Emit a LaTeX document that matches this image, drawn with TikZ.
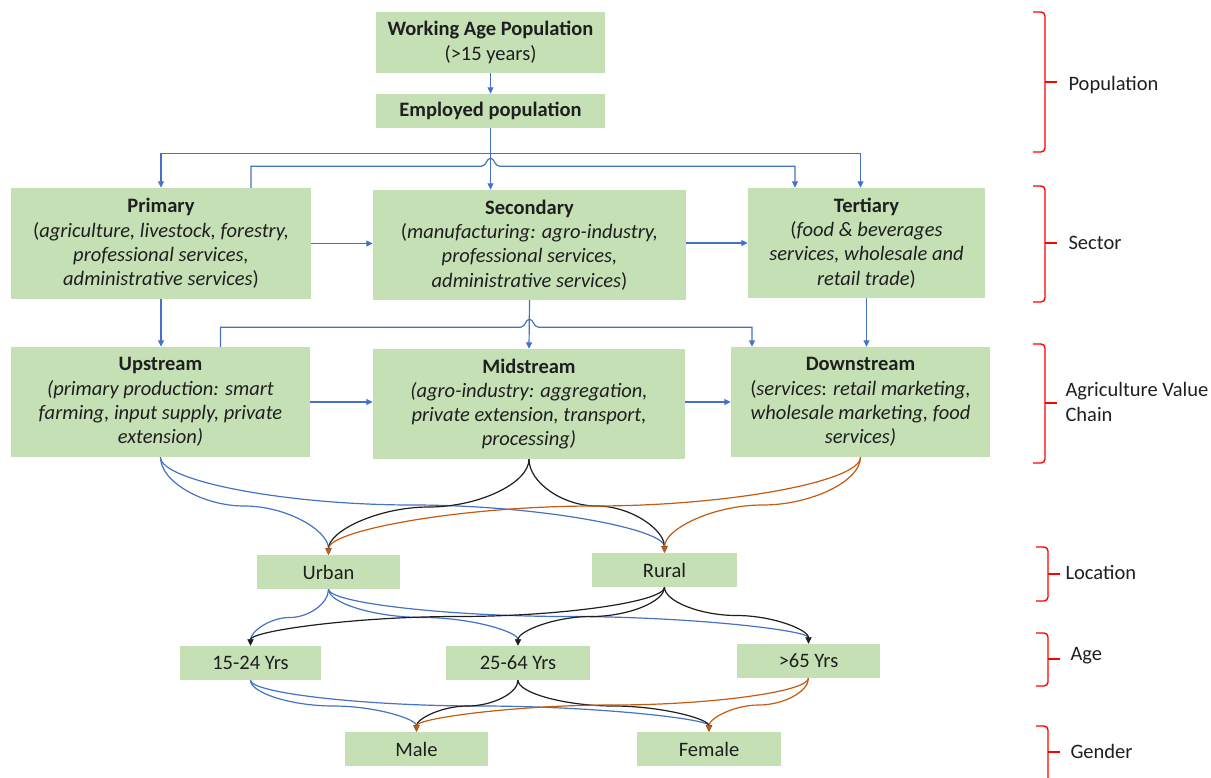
\documentclass[tikz,border=0pt]{standalone}
\usepackage{fontspec}
\setmainfont{Carlito}
\usetikzlibrary{arrows.meta,calc}
\definecolor{boxgreen}{RGB}{197,224,180}
\definecolor{cblue}{RGB}{68,114,196}
\definecolor{corange}{RGB}{197,90,17}
\definecolor{cblack}{RGB}{30,30,30}
\definecolor{cred}{RGB}{255,0,0}
\newcommand\curvconn[3]{%
  \draw[#1] let \p1=(#2), \p2=(#3) in (\p1)
    .. controls (\x1,{\y1+(\y2-\y1)/4}) and ({\x1+(\x2-\x1)/4},{(\y1+\y2)/2}) .. ({(\x1+\x2)/2},{(\y1+\y2)/2})
    .. controls ({\x1+3*(\x2-\x1)/4},{(\y1+\y2)/2}) and (\x2,{\y1+3*(\y2-\y1)/4}) .. (\p2);}
\begin{document}
\begin{tikzpicture}[x=1pt,y=-1pt,
  box/.style={fill=boxgreen, draw=none, align=center, inner sep=0pt,
    font=\fontsize{20.5}{24.2}\selectfont, text=black!88},
  lab/.style={anchor=west, align=left, font=\fontsize{20.5}{24.2}\selectfont, text=black!88},
  conn/.style={line width=1.2pt, -{Triangle[length=6.5pt,width=6pt]}},
  bl/.style={conn, draw=cblue, color=cblue},
  bk/.style={conn, draw=cblack, color=cblack},
  orng/.style={conn, draw=corange, color=corange},
  brace/.style={draw=cred, line width=1.4pt, rounded corners=4pt},
  tick/.style={draw=cred, line width=1.4pt}]
\useasboundingbox (0,0) rectangle (1211,777);

% boxes
\node[box, minimum width=229pt, minimum height=61pt] (wap) at (490.5,42.5) {\textbf{Working Age Population}\\(>15 years)};
\node[box, minimum width=229pt, minimum height=34pt] (emp) at (490.5,111) {\textbf{Employed population}};
\node[box, minimum width=300pt, minimum height=111pt] (prim) at (161,243.5) {\textbf{Primary}\\(\textit{agriculture, livestock, forestry,}\\\textit{professional services,}\\\textit{administrative services})};
\node[box, minimum width=313pt, minimum height=110pt] (sec) at (529.5,245) {\textbf{Secondary}\\(\textit{manufacturing: agro-industry,}\\\textit{professional services,}\\\textit{administrative services})};
\node[box, minimum width=237pt, minimum height=110pt] (ter) at (866.5,243) {\textbf{Tertiary}\\(\textit{food \& beverages}\\\textit{services, wholesale and}\\\textit{retail trade})};
\node[box, minimum width=299pt, minimum height=110pt] (up) at (160.5,402) {\textbf{Upstream}\\\textit{(primary production: smart}\\\textit{farming, input supply, private}\\\textit{extension)}};
\node[box, minimum width=312pt, minimum height=110pt] (mid) at (529,404) {\textbf{Midstream}\\\textit{(agro-industry: aggregation,}\\\textit{private extension, transport,}\\\textit{processing)}};
\node[box, minimum width=259pt, minimum height=110pt] (down) at (860.5,402) {\textbf{Downstream}\\(\textit{services}: \textit{retail marketing,}\\\textit{wholesale marketing, food}\\\textit{services)}};
\node[box, minimum width=143pt, minimum height=34pt] (urban) at (328.5,572) {Urban};
\node[box, minimum width=145pt, minimum height=34pt] (rural) at (664.5,570) {Rural};
\node[box, minimum width=141pt, minimum height=34pt] (a1) at (250.5,663) {15-24 Yrs};
\node[box, minimum width=144pt, minimum height=34pt] (a2) at (518,663) {25-64 Yrs};
\node[box, minimum width=143pt, minimum height=34pt] (a3) at (808.5,661) {>65 Yrs};
\node[box, minimum width=143pt, minimum height=34pt] (male) at (416.5,749) {Male};
\node[box, minimum width=144pt, minimum height=34pt] (female) at (709,749) {Female};

% helper coordinates
\coordinate (j1) at ($(emp.south)+(0,25)$);
\coordinate (t2) at ($(ter.north)+(-6,0)$);
\coordinate (p1) at ($(prim.north)+(90,0)$);
\coordinate (h1) at ($(emp.south)+(0,38)$);
\coordinate (t1) at ($(ter.north)+(-71.5,0)$);
\coordinate (u1) at ($(up.north)+(60,0)$);
\coordinate (h2) at ($(sec.south)+(0,27)$);
\coordinate (d1) at ($(down.north)+(-108.5,0)$);

% straight connectors
\draw[bl] (wap.south) -- (emp.north);
\draw[bl] (emp.south) -- (emp.south |- sec.north);
\draw[bl] (emp.south) -- (j1) -| (prim.north);
\draw[bl] (j1) -| (t2);
\draw[bl] (p1) -- (p1 |- h1) -- ($(h1)+(-9,0)$)
  .. controls ($(h1)+(-4,0)$) and ($(h1)+(-4,-8)$) .. ($(h1)+(0,-8)$)
  .. controls ($(h1)+(4,-8)$) and ($(h1)+(4,0)$) .. ($(h1)+(9,0)$)
  -- (h1 -| t1) -- (t1);
\draw[bl] (prim.east) -- (prim.east -| sec.west);
\draw[bl] (ter.west -| sec.east) -- (ter.west);
\draw[bl] (prim.south) -- (prim.south |- up.north);
\draw[bl] (sec.south) -- (mid.north);
\draw[bl] (ter.south) -- (ter.south |- down.north);
\draw[bl] (u1) -- (u1 |- h2) -- ($(h2)+(-9,0)$)
  .. controls ($(h2)+(-4,0)$) and ($(h2)+(-4,-8)$) .. ($(h2)+(0,-8)$)
  .. controls ($(h2)+(4,-8)$) and ($(h2)+(4,0)$) .. ($(h2)+(9,0)$)
  -- (h2 -| d1) -- (d1);
\draw[bl] (up.east) -- (up.east -| mid.west);
\draw[bl] (down.west -| mid.east) -- (down.west);

% curved connectors
\curvconn{bl}{up.south}{urban.north}
\curvconn{bl}{up.south}{rural.north}
\curvconn{bk}{mid.south}{urban.north}
\curvconn{bk}{mid.south}{rural.north}
\curvconn{orng}{down.south}{urban.north}
\curvconn{orng}{down.south}{rural.north}
\curvconn{bl}{urban.south}{a1.north}
\curvconn{bl}{urban.south}{a2.north}
\curvconn{bl}{urban.south}{a3.north}
\curvconn{bk}{rural.south}{a1.north}
\curvconn{bk}{rural.south}{a2.north}
\curvconn{bk}{rural.south}{a3.north}
\curvconn{bl}{a1.south}{male.north}
\curvconn{bl}{a1.south}{female.north}
\curvconn{bk}{a2.south}{male.north}
\curvconn{bk}{a2.south}{female.north}
\curvconn{orng}{a3.south}{male.north}
\curvconn{orng}{a3.south}{female.north}

% braces and labels
\draw[brace] (1033,12) -- (1045,12) -- (1045,152) -- (1033,152);
\draw[tick] (1045,82) -- (1057,82);
\node[lab] (lpop) at (1065,85) {Population};
\draw[brace] (1033,186) -- (1045,186) -- (1045,302) -- (1033,302);
\draw[tick] (1045,243) -- (1057,243);
\node[lab] (lsec) at (1065,243) {Sector};
\draw[brace] (1033,344) -- (1045,344) -- (1045,463) -- (1033,463);
\draw[tick] (1045,403) -- (1057,403);
\node[lab] (lavc) at (1062,402) {Agriculture Value\\Chain};
\draw[brace] (1036,547) -- (1048,547) -- (1048,601) -- (1036,601);
\draw[tick] (1048,574) -- (1060,574);
\node[lab] (lloc) at (1062,572) {Location};
\draw[brace] (1036,633) -- (1048,633) -- (1048,686) -- (1036,686);
\draw[tick] (1048,659) -- (1060,659);
\node[lab] (lage) at (1067,656) {Age};
\draw[brace] (1036,726) -- (1048,726) -- (1048,790);
\draw[tick] (1048,752) -- (1060,752);
\node[lab] (lgen) at (1067,751) {Gender};
\end{tikzpicture}
\end{document}
